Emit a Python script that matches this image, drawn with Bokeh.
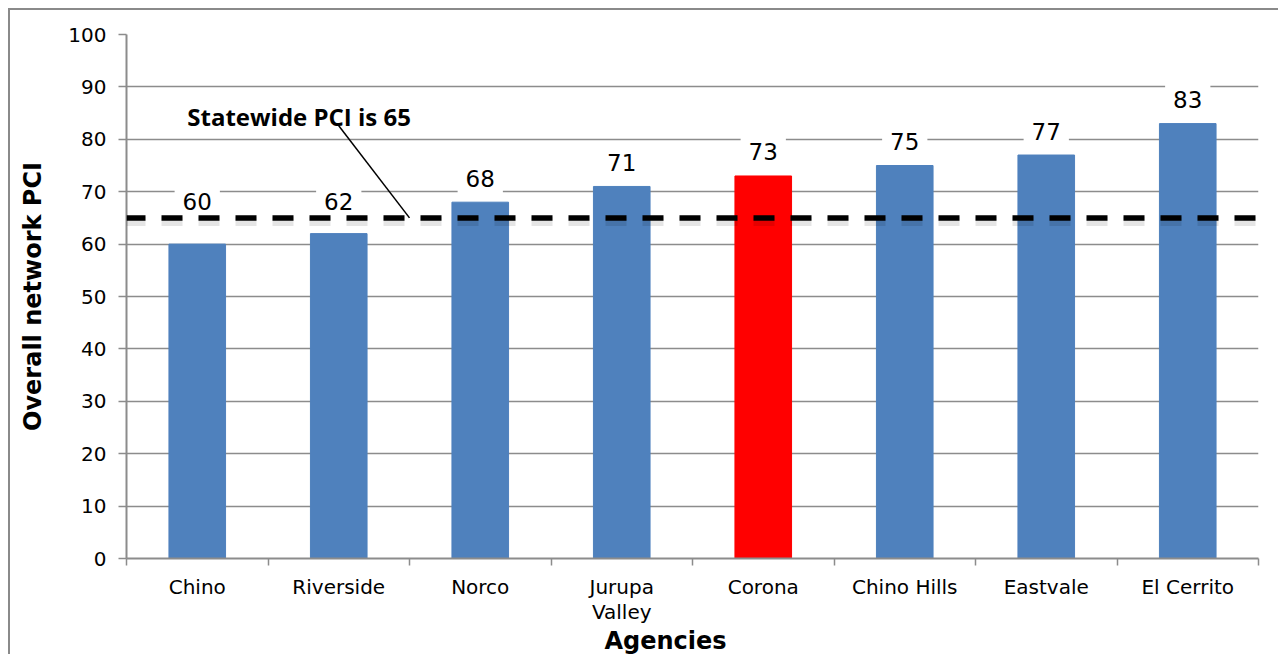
from bokeh.plotting import figure
from bokeh.models import Range1d, FixedTicker, Label, Span, ColumnDataSource, Title
from bokeh.embed import file_html
from bokeh.resources import INLINE

# ---- data ----
agencies = ["Chino", "Riverside", "Norco", "Jurupa\nValley", "Corona",
            "Chino Hills", "Eastvale", "El Cerrito"]
pci = [60, 62, 68, 71, 73, 75, 77, 83]
highlight = "Corona"
statewide = 65
statewide_text = "Statewide PCI is 65"
y_ticks = list(range(0, 101, 10))
x_title = "Agencies"
y_title = "Overall network PCI"

BLUE = "#4F81BD"
RED = "#FF0000"
GRID = "#8c8c8c"
FONT = "DejaVu Sans"

n = len(agencies)
xc = [i + 0.5 for i in range(n)]
colors = [RED if a == highlight else BLUE for a in agencies]
src = ColumnDataSource(dict(x=xc, top=pci, color=colors))

p = figure(width=1270, height=646, x_range=Range1d(0, n), y_range=Range1d(0, 100),
           output_backend="svg", toolbar_location=None,
           min_border_left=116, min_border_right=22, min_border_top=24, min_border_bottom=98)
p.background_fill_color = "white"
p.border_fill_color = "white"
p.outline_line_color = None
p.styles = {"margin-left": "8px", "margin-top": "8px",
            "border-left": "2px solid #8a8a8a", "border-top": "2px solid #8a8a8a"}

p.vbar(x="x", top="top", width=0.4, color="color", source=src)

# grid
p.xgrid.visible = False
p.ygrid.ticker = FixedTicker(ticks=y_ticks)
p.ygrid.grid_line_color = GRID
p.ygrid.grid_line_width = 1.5

# y axis
ya = p.yaxis[0]
ya.ticker = FixedTicker(ticks=y_ticks, minor_ticks=[])
ya.axis_line_color = GRID
ya.axis_line_width = 2
ya.major_tick_line_color = GRID
ya.major_tick_line_width = 1.5
ya.major_tick_out = 8
ya.major_tick_in = 0
ya.minor_tick_line_color = None
ya.major_label_text_font = FONT
ya.major_label_text_font_size = "20px"
ya.major_label_text_color = "black"
ya.major_label_standoff = 12
ya.axis_label = y_title
ya.axis_label_text_font = FONT
ya.axis_label_text_font_style = "bold"
ya.axis_label_text_font_size = "24px"
ya.axis_label_text_color = "black"
ya.axis_label_standoff = 18

# x axis: labels at centres, ticks at boundaries
xa = p.xaxis[0]
xa.ticker = FixedTicker(ticks=xc, minor_ticks=list(range(n + 1)))
xa.major_label_overrides = {c: a for c, a in zip(xc, agencies)}
xa.axis_line_color = GRID
xa.axis_line_width = 2
xa.major_tick_line_color = None
xa.major_tick_out = 0
xa.major_tick_in = 0
xa.minor_tick_line_color = GRID
xa.minor_tick_line_width = 1.5
xa.minor_tick_out = 7
xa.minor_tick_in = 0
xa.major_label_text_font = FONT
xa.major_label_text_font_size = "20px"
xa.major_label_text_line_height = 1.05
xa.major_label_text_color = "black"
xa.major_label_standoff = 9

# x title (placed below the axis, shifted as in the original)
p.add_layout(Title(text=x_title, align="left", offset=478, standoff=0,
                   vertical_align="top", text_font=FONT, text_font_style="bold",
                   text_font_size="24px", text_color="black"), "below")

# data labels (moved above the statewide line when they would collide)
for c, v in zip(xc, pci):
    anchor = max(v, statewide - 1.5)
    p.add_layout(Label(x=c, y=anchor, y_offset=24, text=str(v),
                       text_align="center", text_baseline="middle",
                       text_font=FONT, text_font_size="23px", text_color="black",
                       background_fill_color="white", padding=8))

# statewide line with soft shadow
p.add_layout(Span(location=statewide - 0.7, dimension="width", line_color="#000000",
                  line_alpha=0.10, line_width=9, line_dash="21 16", line_dash_offset=2))
p.add_layout(Span(location=statewide, dimension="width", line_color="black",
                  line_width=5.5, line_dash="21 16", line_dash_offset=2))

# annotation and leader line
p.segment(x0=[1.5], y0=[82.6], x1=[2.0], y1=[statewide], line_color="black", line_width=1.5)
p.add_layout(Label(x=1.22, y=84.35, text=statewide_text, text_align="center",
                   text_baseline="middle", text_font="Open Sans", text_font_style="bold",
                   text_font_size="24px", text_color="black"))

open("out.html", "w").write(file_html(p, INLINE))
